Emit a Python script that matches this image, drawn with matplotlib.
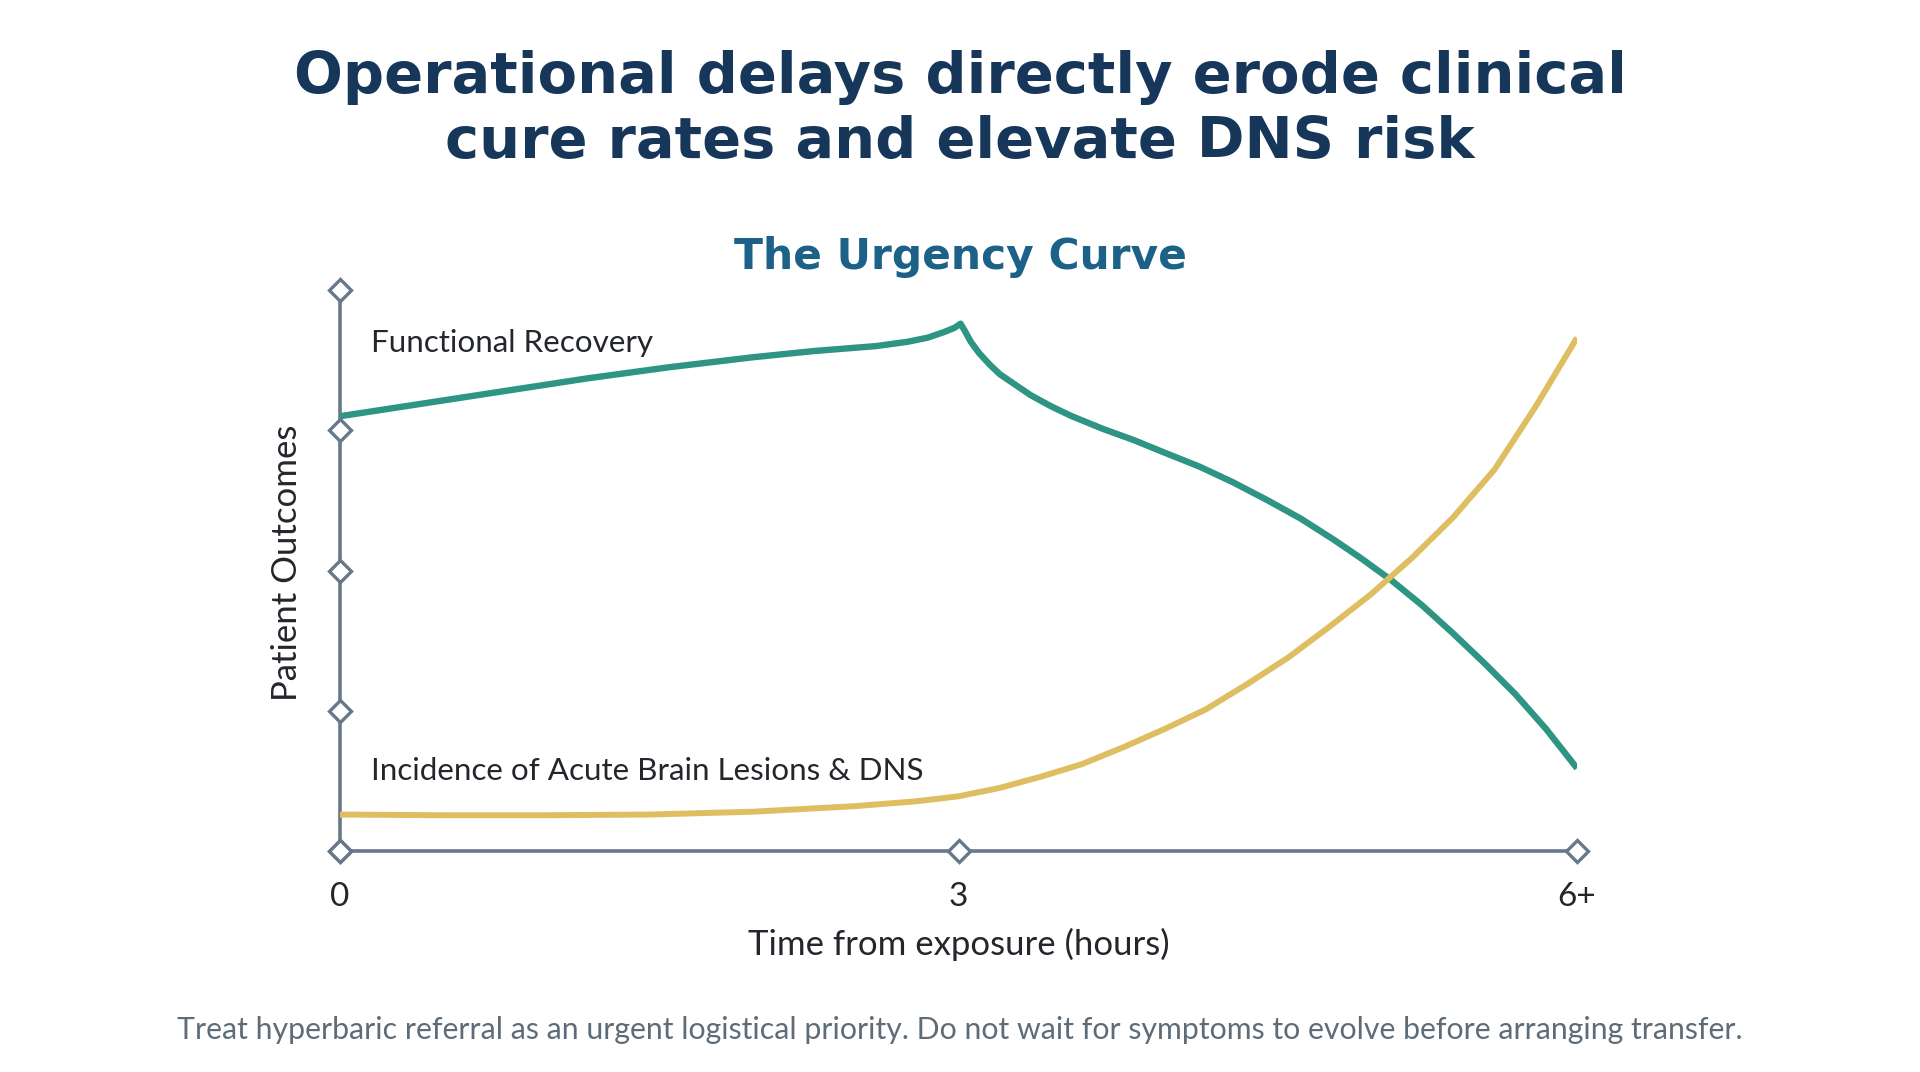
import matplotlib
matplotlib.use("Agg")
import matplotlib.pyplot as plt

# hours from exposure
recovery_x = [0.00, 0.40, 0.80, 1.20, 1.60, 2.00, 2.30, 2.60, 2.75, 2.85, 2.93, 2.98,
              3.01, 3.03, 3.06, 3.10, 3.15, 3.20, 3.27, 3.35, 3.45, 3.55, 3.70, 3.85,
              4.00, 4.17, 4.33, 4.50, 4.66, 4.82, 4.95, 5.10, 5.25, 5.40, 5.55, 5.70,
              5.85, 6.00]
recovery_y = [3.10, 3.19, 3.28, 3.37, 3.45, 3.52, 3.565, 3.60, 3.63, 3.66, 3.70, 3.73,
              3.76, 3.71, 3.63, 3.55, 3.47, 3.40, 3.33, 3.25, 3.17, 3.10, 3.01, 2.93,
              2.84, 2.74, 2.63, 2.50, 2.37, 2.22, 2.09, 1.93, 1.75, 1.55, 1.34, 1.12,
              0.87, 0.59]

lesion_x = [0.0, 0.5, 1.0, 1.5, 2.0, 2.5, 2.8, 3.0, 3.2, 3.4, 3.6, 3.8, 4.0, 4.2,
            4.4, 4.6, 4.8, 5.0, 5.2, 5.4, 5.6, 5.8, 6.0]
lesion_y = [0.26, 0.255, 0.255, 0.26, 0.28, 0.32, 0.355, 0.39, 0.45, 0.53, 0.62, 0.74,
            0.87, 1.01, 1.19, 1.38, 1.60, 1.83, 2.09, 2.38, 2.72, 3.17, 3.66]

x_ticks = [0, 3, 6]
x_tick_labels = ["0", "3", "6+"]
y_marks = [0, 1, 2, 3, 4]

title = "Operational delays directly erode clinical\ncure rates and elevate DNS risk"
subtitle = "The Urgency Curve"
footer = ("Treat hyperbaric referral as an urgent logistical priority. "
          "Do not wait for symptoms to evolve before arranging transfer.")

GREEN = "#2e9483"
GOLD = "#dfbe62"
AXIS = "#66788a"
NAVY = "#17375a"
BLUE = "#1c6288"
INK = "#23272c"
GREY = "#5e6c78"

plt.rcParams["font.family"] = ["Lato", "DejaVu Sans"]

W, H = 1920, 1072
fig = plt.figure(figsize=(W / 100, H / 100), dpi=100)
fig.patch.set_facecolor("white")

# axes box: x 340..1577 px, y 290..851 px
ax = fig.add_axes([340 / W, (H - 851) / H, (1577 - 340) / W, (851 - 290) / H])
ax.set_xlim(0, 6)
ax.set_ylim(0, 4)

ax.plot(recovery_x, recovery_y, color=GREEN, lw=4.6, solid_joinstyle="round",
        solid_capstyle="butt", zorder=3)
ax.plot(lesion_x, lesion_y, color=GOLD, lw=4.3, solid_joinstyle="round",
        solid_capstyle="butt", zorder=3)

for s in ["top", "right"]:
    ax.spines[s].set_visible(False)
for s in ["left", "bottom"]:
    ax.spines[s].set_color(AXIS)
    ax.spines[s].set_linewidth(2.6)

# diamond markers on the axes
ax.plot(x_ticks, [0] * len(x_ticks), "D", ms=11, mfc="white", mec=AXIS, mew=2.4,
        clip_on=False, zorder=5)
ax.plot([0] * len(y_marks), y_marks, "D", ms=11, mfc="white", mec=AXIS, mew=2.4,
        clip_on=False, zorder=5)

ax.set_xticks(x_ticks)
ax.set_xticklabels(x_tick_labels, fontsize=24, color=INK)
ax.set_yticks([])
ax.tick_params(axis="x", length=0, pad=22)

ax.set_xlabel("Time from exposure (hours)", fontsize=25, color=INK)
ax.xaxis.set_label_coords(0.5, -0.137)
ax.set_ylabel("Patient Outcomes", fontsize=25, color=INK)
ax.yaxis.set_label_coords(-0.03, 0.513)

ax.text(0.15, 3.625, "Functional Recovery", fontsize=22.6, color=INK, va="center", ha="left")
ax.text(0.15, 0.57, "Incidence of Acute Brain Lesions & DNS", fontsize=22.6, color=INK,
        va="center", ha="left")

fig.text(0.5, 1 - 110 / H, title, ha="center", va="center", fontsize=41.4,
         fontweight="bold", color=NAVY, linespacing=1.25, family="DejaVu Sans")
fig.text(0.5, 1 - 257 / H, subtitle, ha="center", va="center", fontsize=30.5,
         fontweight="bold", color=BLUE, family="DejaVu Sans")
fig.text(0.5, 1 - 1030 / H, footer, ha="center", va="center", fontsize=21.8, color=GREY)

fig.savefig("out.png", dpi=100, facecolor="white")
